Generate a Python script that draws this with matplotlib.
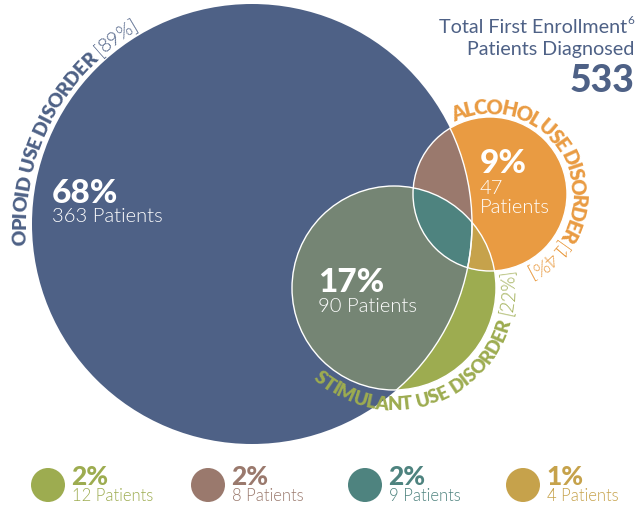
import numpy as np
import matplotlib
matplotlib.use("Agg")
import matplotlib.pyplot as plt
from matplotlib.patches import Circle, Polygon
from matplotlib.font_manager import FontProperties, findfont, get_font

# ---------------- data ----------------
set_names = ["OPIOID USE DISORDER", "ALCOHOL USE DISORDER", "STIMULANT USE DISORDER"]
set_shares = ["[89%]", "[14%]", "[22%]"]
main_pcts = ["68%", "9%", "17%"]          # opioid only, alcohol only, opioid+stimulant
main_counts = [363, 47, 90]
legend_pcts = ["2%", "2%", "2%", "1%"]    # stimulant only, opioid+alcohol, all three, alcohol+stimulant
legend_counts = [12, 8, 9, 4]
total_patients = 533
title_lines = ["Total First Enrollment", "Patients Diagnosed"]
footnote = "6"

# ---------------- style ----------------
BLUE = "#4e6186"
ORANGE = "#e99b42"
GREYGREEN = "#758574"
GREEN = "#9dac50"
BROWN = "#9a796d"
TEAL = "#4e837f"
GOLD = "#c6a24b"
legend_colors = [GREEN, BROWN, TEAL, GOLD]
FAM = "Lato"
LIGHT = 300
HEAVY = 900
ARCW = 800

W, H = 639, 506
fig = plt.figure(figsize=(W / 100, H / 100), dpi=100)
ax = fig.add_axes([0, 0, 1, 1])
ax.set_xlim(0, W)
ax.set_ylim(H, 0)
ax.axis("off")

# circle geometry (pixel coords)
OP = ((252, 225), 220)
AL = ((490, 195), 77)
ST = ((394, 289), 102)


def circ_pts(c, r, n=720):
    t = np.linspace(0, 2 * np.pi, n, endpoint=False)
    return np.c_[c[0] + r * np.cos(t), c[1] + r * np.sin(t)]


def arc_inside(c1, r1, c2, r2):
    p = circ_pts(c1, r1)
    inside = np.hypot(p[:, 0] - c2[0], p[:, 1] - c2[1]) <= r2
    starts = np.where(inside & ~np.roll(inside, 1))[0]
    k = starts[0] if len(starts) else 0
    p = np.roll(p, -k, axis=0)
    inside = np.roll(inside, -k)
    return p[inside]


def lens(a, b):
    return np.vstack([arc_inside(a[0], a[1], b[0], b[1]), arc_inside(b[0], b[1], a[0], a[1])])


def clipped_circle(geom, color, clip_poly, z):
    c = Circle(geom[0], geom[1], facecolor=color, edgecolor="none", zorder=z)
    ax.add_patch(c)
    cp = Polygon(clip_poly, closed=True, transform=ax.transData, facecolor="none", edgecolor="none")
    c.set_clip_path(cp)
    return c


# fills
ax.add_patch(Circle(OP[0], OP[1], facecolor=BLUE, edgecolor="none", zorder=1))
ax.add_patch(Circle(ST[0], ST[1], facecolor=GREEN, edgecolor="none", zorder=2))
clipped_circle(ST, GREYGREEN, circ_pts(*OP), 3)
ax.add_patch(Circle(AL[0], AL[1], facecolor=ORANGE, edgecolor="none", zorder=4))
clipped_circle(AL, BROWN, circ_pts(*OP), 5)
clipped_circle(AL, GOLD, circ_pts(*ST), 6)
clipped_circle(ST, TEAL, lens(AL, OP), 7)

# white outlines
LW = 1.0
ax.add_patch(Circle(ST[0], ST[1], facecolor="none", edgecolor="white", lw=LW, zorder=8))
ax.add_patch(Circle(AL[0], AL[1], facecolor="none", edgecolor="white", lw=LW, zorder=8))
for g in (ST, AL):
    oc = Circle(OP[0], OP[1], facecolor="none", edgecolor="white", lw=LW, zorder=8)
    ax.add_patch(oc)
    oc.set_clip_path(Polygon(circ_pts(*g), closed=True, transform=ax.transData))


# curved text
def advance(ch, fp, size):
    font = get_font(findfont(fp))
    font.set_size(size, 100)
    g = font.load_char(ord(ch))
    return g.linearHoriAdvance / 65536.0


def arc_text(geom, r_base, a0, a1, segments, size, color, direction):
    c = geom[0]
    items = []
    for txt, weight in segments:
        fp = FontProperties(family=FAM, weight=weight, size=size)
        for ch in txt:
            items.append((ch, fp, advance(ch, fp, size)))
    total = sum(i[2] for i in items)
    span = np.radians(abs(a1 - a0)) * r_base
    extra = (span - total) / max(len(items) - 1, 1)
    theta = a0
    for ch, fp, adv in items:
        dth = np.degrees(adv / r_base)
        mid = theta + direction * dth / 2
        x = c[0] + r_base * np.cos(np.radians(mid))
        y = c[1] - r_base * np.sin(np.radians(mid))
        rot = mid - 90 if direction < 0 else mid + 90
        ax.text(x, y, ch, fontproperties=fp, color=color, rotation=rot,
                rotation_mode="anchor", ha="center", va="baseline", zorder=10)
        theta += direction * np.degrees((adv + extra) / r_base)


arc_text(OP, 226, 185, 120, [(set_names[0] + " ", ARCW), (set_shares[0], LIGHT)], 14, BLUE, -1)
arc_text(AL, 81, 116, -64, [(set_names[1] + " ", ARCW), (set_shares[1], LIGHT)], 14.5, ORANGE, -1)
arc_text(ST, 121, -132, 9, [(set_names[2] + " ", ARCW), (set_shares[2], LIGHT)], 13.5, GREEN, 1)

# region labels
BIG = 24
SMALL = 14.5
ax.text(52, 203, main_pcts[0], fontfamily=FAM, fontweight=HEAVY, fontsize=BIG, color="white", va="baseline", zorder=11)
ax.text(52, 222, f"{main_counts[0]} Patients", fontfamily=FAM, fontweight=LIGHT, fontsize=SMALL, color="white", va="baseline", zorder=11)
ax.text(318, 292, main_pcts[2], fontfamily=FAM, fontweight=HEAVY, fontsize=BIG, color="white", va="baseline", zorder=11)
ax.text(318, 312, f"{main_counts[2]} Patients", fontfamily=FAM, fontweight=LIGHT, fontsize=SMALL, color="white", va="baseline", zorder=11)
ax.text(480, 173, main_pcts[1], fontfamily=FAM, fontweight=HEAVY, fontsize=BIG, color="white", va="baseline", zorder=11)
ax.text(480, 194, f"{main_counts[1]}", fontfamily=FAM, fontweight=LIGHT, fontsize=SMALL, color="white", va="baseline", zorder=11)
ax.text(480, 213, "Patients", fontfamily=FAM, fontweight=LIGHT, fontsize=SMALL, color="white", va="baseline", zorder=11)

# title block
ax.text(627, 33, title_lines[0], fontfamily=FAM, fontweight=400, fontsize=14.2, color=BLUE, ha="right", va="baseline")
ax.text(627.5, 24, footnote, fontfamily=FAM, fontweight=400, fontsize=8.5, color=BLUE, ha="left", va="baseline")
ax.text(634, 55, title_lines[1], fontfamily=FAM, fontweight=400, fontsize=14.2, color=BLUE, ha="right", va="baseline")
ax.text(634, 92, f"{total_patients}", fontfamily=FAM, fontweight=HEAVY, fontsize=27, color=BLUE, ha="right", va="baseline")

# legend
lx = [48, 208, 365, 523]
for x, col, p, n in zip(lx, legend_colors, legend_pcts, legend_counts):
    ax.add_patch(Circle((x, 486), 17, facecolor=col, edgecolor="none"))
    ax.text(x + 23, 485, p, fontfamily=FAM, fontweight=HEAVY, fontsize=19, color=col, va="baseline")
    ax.text(x + 24, 501, f"{n} Patients", fontfamily=FAM, fontweight=LIGHT, fontsize=12, color=col, va="baseline")

fig.savefig("out.png", dpi=100)
